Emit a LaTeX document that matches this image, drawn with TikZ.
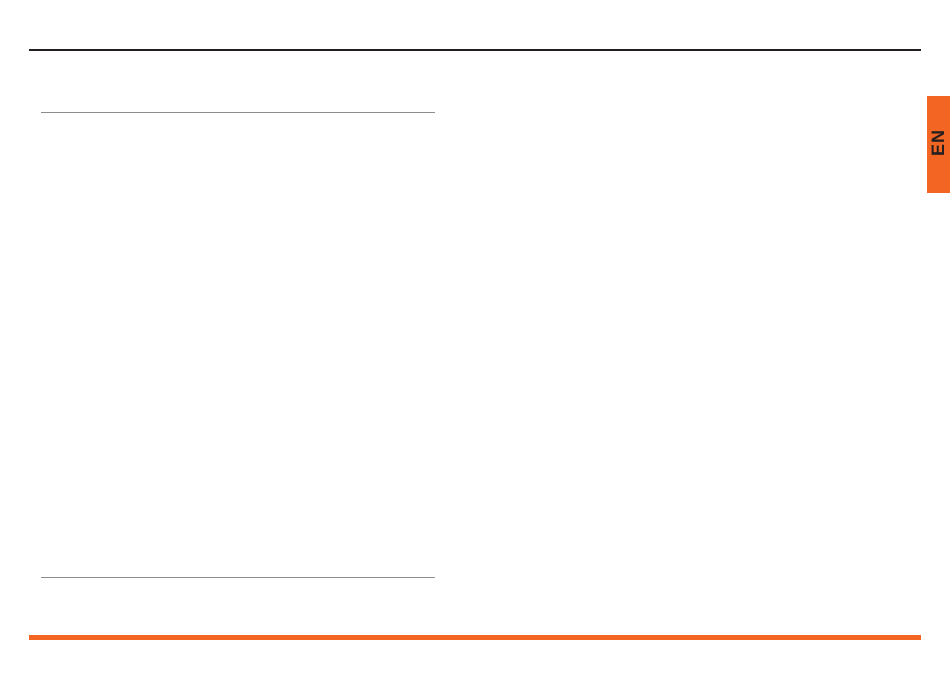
\documentclass[tikz,border=0pt]{standalone}
\usepackage{fontspec}
\setsansfont{Liberation Sans}
\definecolor{tab}{HTML}{F26522}
\definecolor{rule}{HTML}{8C8C8C}
\definecolor{ink}{HTML}{231F20}
\tikzset{
  thickrule/.style={line width=2pt, draw=ink},
  thinrule/.style={line width=1pt, draw=rule},
  orangerule/.style={line width=5pt, draw=tab},
  tabtext/.style={font=\sffamily\bfseries\fontsize{18}{18}\selectfont, text=ink, rotate=90, inner sep=0pt}
}
\begin{document}
\begin{tikzpicture}[x=1pt,y=-1pt]
\useasboundingbox (0,0) rectangle (950,674);
\fill[white] (0,0) rectangle (950,674);
\draw[thickrule] (29,50) -- (921,50);
\draw[thinrule] (41,112.5) -- (435,112.5);
\draw[thinrule] (41,577) -- (435,577);
\draw[orangerule] (29,637.5) -- (921,637.5);
\fill[tab] (927,96) rectangle (950,192.5);
\node[tabtext] (en) at (938,143.5) {EN};
\end{tikzpicture}
\end{document}
